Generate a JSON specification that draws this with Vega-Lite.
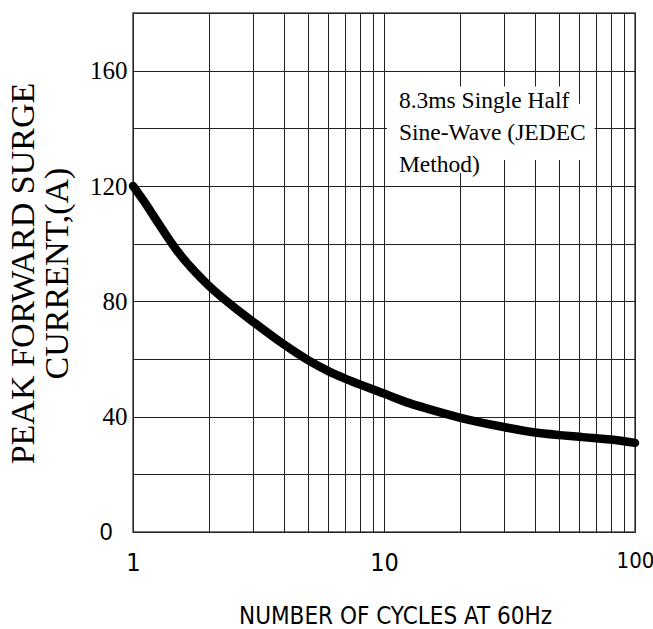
{
  "$schema": "https://vega.github.io/schema/vega-lite/v6.json",
  "width": 502,
  "height": 519,
  "autosize": {"type": "none"},
  "padding": {"left": 133, "top": 13, "right": 18, "bottom": 97},
  "background": "white",
  "config": {
    "view": {"stroke": "#7a7a7a", "strokeWidth": 2},
    "axis": {"gridColor": "#222", "gridWidth": 1, "gridOpacity": 1, "ticks": false, "tickSize": 0, "domain": false, "labelColor": "#000", "titleColor": "#000", "titleFontWeight": "normal"}
  },
  "datasets": {
    "curve": [
      {"cycles": 1, "current": 120},
      {"cycles": 1.1, "current": 115},
      {"cycles": 1.2, "current": 110},
      {"cycles": 1.5, "current": 97.5},
      {"cycles": 2, "current": 85.5},
      {"cycles": 2.5, "current": 78.3},
      {"cycles": 3, "current": 73},
      {"cycles": 4, "current": 65},
      {"cycles": 5, "current": 59.5},
      {"cycles": 6, "current": 55.8},
      {"cycles": 7, "current": 53.2},
      {"cycles": 8, "current": 51.2},
      {"cycles": 9, "current": 49.5},
      {"cycles": 10, "current": 48},
      {"cycles": 12.7, "current": 44.6},
      {"cycles": 15, "current": 42.7},
      {"cycles": 20, "current": 39.7},
      {"cycles": 30, "current": 36.4},
      {"cycles": 40, "current": 34.5},
      {"cycles": 50, "current": 33.6},
      {"cycles": 60, "current": 33},
      {"cycles": 70, "current": 32.5},
      {"cycles": 80, "current": 32.1},
      {"cycles": 100, "current": 30.9}
    ],
    "boxes": [
      {"x1": 10.3, "x2": 57, "y1": 129, "y2": 154.5},
      {"x1": 10.3, "x2": 69, "y1": 129, "y2": 148.5},
      {"x1": 10.3, "x2": 26, "y1": 124.5, "y2": 130}
    ],
    "note": [
      {"x": 11.47, "y": 147, "label": "8.3ms Single Half\nSine-Wave (JEDEC\nMethod)"}
    ]
  },
  "layer": [
    {
      "data": {"name": "boxes"},
      "mark": {"type": "rect", "fill": "white", "stroke": null},
      "encoding": {
        "x": {
          "field": "x1", "type": "quantitative",
          "scale": {"type": "log", "domain": [1, 100], "nice": false},
          "axis": {
            "values": [1, 2, 3, 4, 5, 6, 7, 8, 9, 10, 20, 30, 40, 50, 60, 70, 80, 90, 100],
            "labelExpr": "datum.value == 1 || datum.value == 10 || datum.value == 100 ? toString(datum.value) : ''",
            "labelFont": "Liberation Sans Narrow, DejaVu Sans Condensed, Liberation Sans",
            "labelFontSize": {"condition": {"test": "datum.value == 100", "value": 22}, "value": 25},
            "labelPadding": 18,
            "labelFlush": false,
            "labelOverlap": false,
            "title": "NUMBER OF CYCLES AT 60Hz",
            "titleFont": "Liberation Sans Narrow, DejaVu Sans Condensed, Liberation Sans",
            "titleFontSize": 24,
            "titleX": 262,
            "titleY": 84,
            "titleBaseline": "middle",
            "titleAlign": "center"
          }
        },
        "x2": {"field": "x2"},
        "y": {
          "field": "y1", "type": "quantitative",
          "scale": {"domain": [0, 180], "nice": false},
          "axis": {
            "values": [0, 20, 40, 60, 80, 100, 120, 140, 160, 180],
            "labelExpr": "datum.value % 40 == 0 && datum.value <= 160 ? toString(datum.value) : ''",
            "labelFont": {"condition": {"test": "datum.value == 0", "value": "Liberation Sans"}, "value": "Liberation Serif"},
            "labelFontSize": {"condition": {"test": "datum.value == 0", "value": 23}, "value": 25},
            "labelPadding": {"condition": {"test": "datum.value == 0", "value": 21}, "value": 6},
            "labelFlush": false,
            "labelOverlap": false,
            "title": ["PEAK FORWARD SURGE", "CURRENT,(A)"],
            "titleFont": "Liberation Serif",
            "titleFontSize": 34,
            "titleLineHeight": 34,
            "titleAngle": -90,
            "titleX": -110,
            "titleY": 260,
            "titleAlign": "center",
            "titleBaseline": "middle"
          }
        },
        "y2": {"field": "y2"}
      }
    },
    {
      "data": {"name": "curve"},
      "mark": {"type": "line", "color": "black", "strokeWidth": 8.5, "strokeCap": "round", "strokeJoin": "round", "interpolate": "monotone"},
      "encoding": {
        "x": {"field": "cycles", "type": "quantitative"},
        "y": {"field": "current", "type": "quantitative"}
      }
    },
    {
      "data": {"name": "note"},
      "mark": {"type": "text", "align": "left", "baseline": "alphabetic", "font": "Liberation Serif", "fontSize": 23.5, "lineHeight": 32, "lineBreak": "\n", "color": "black"},
      "encoding": {
        "x": {"field": "x", "type": "quantitative"},
        "y": {"field": "y", "type": "quantitative"},
        "text": {"field": "label", "type": "nominal"}
      }
    }
  ]
}
